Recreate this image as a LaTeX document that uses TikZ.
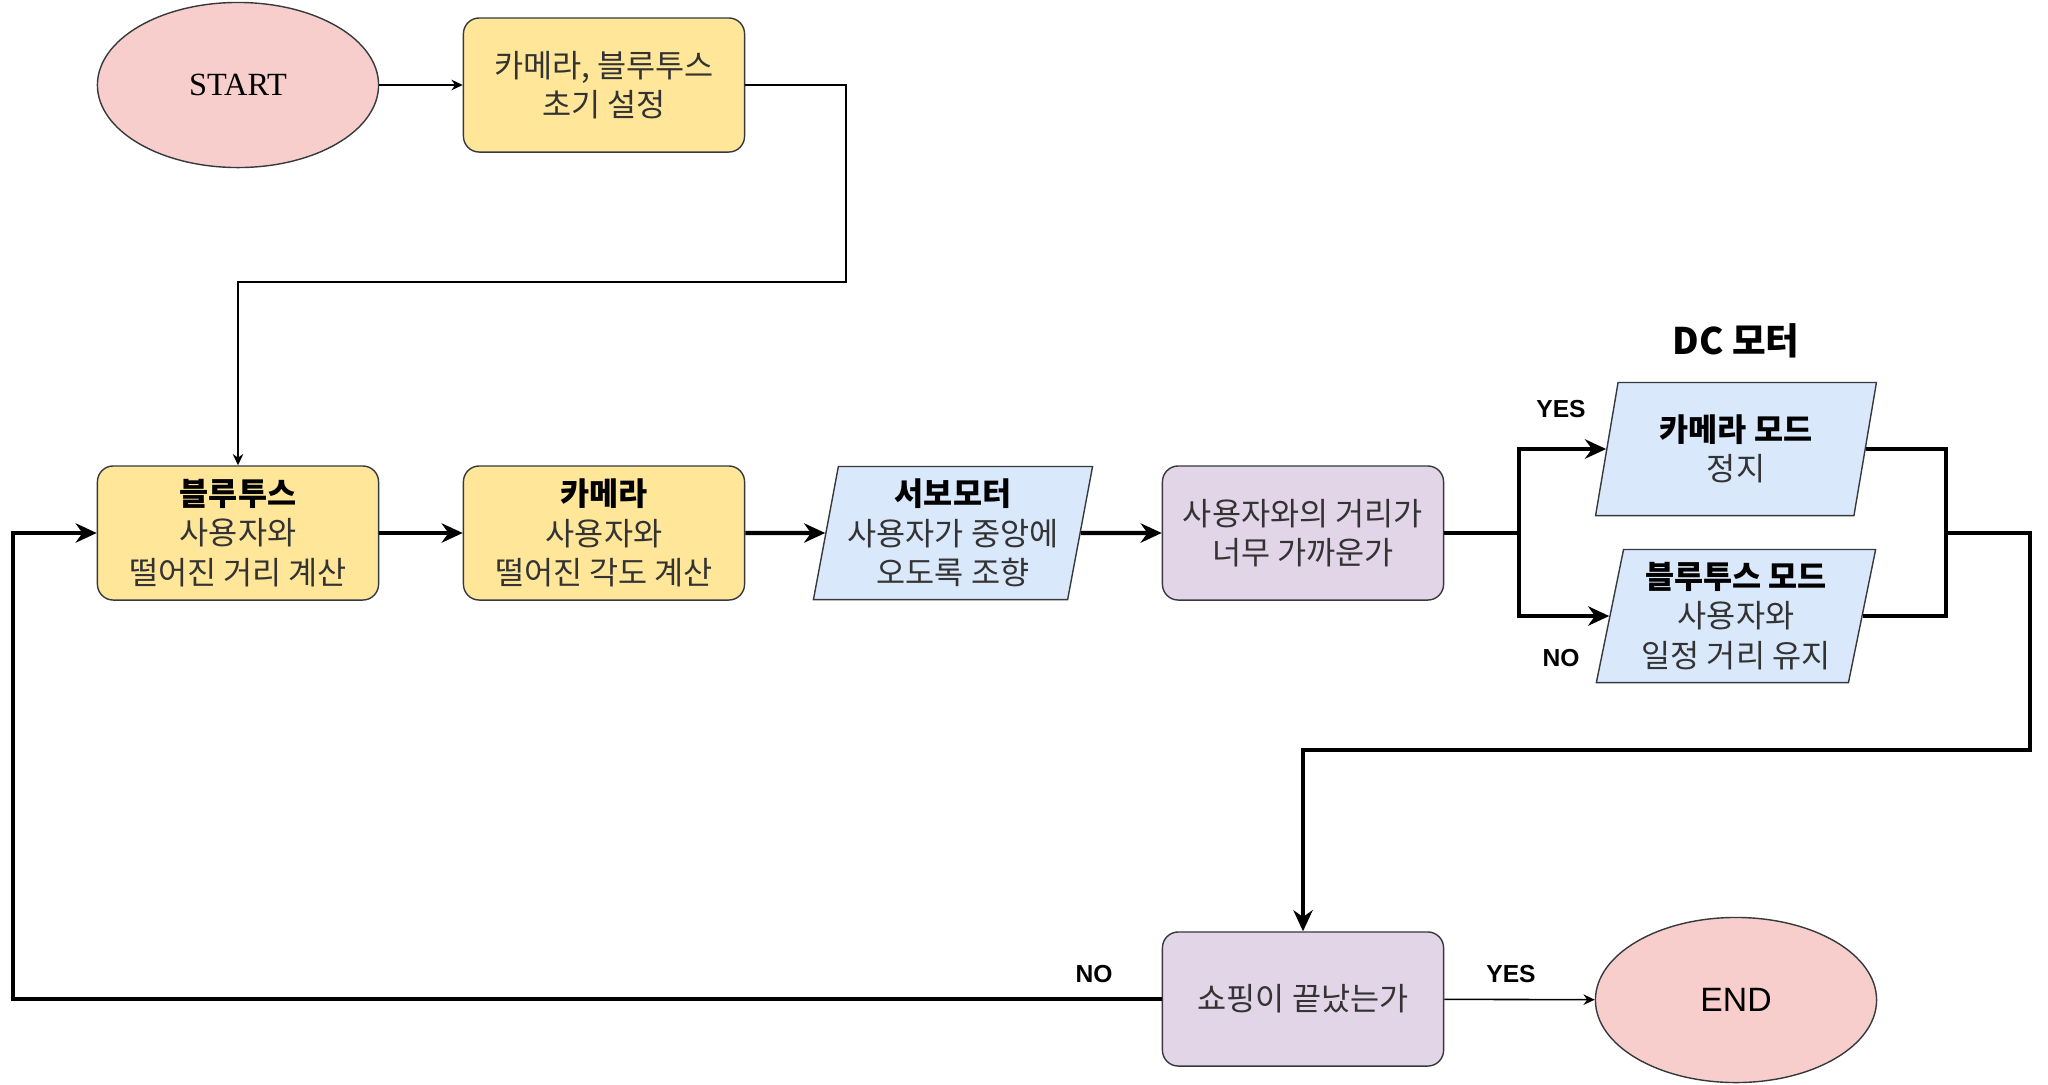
\documentclass[tikz,border=0pt]{standalone}
\usepackage{fontspec}
\setmainfont{Noto Sans CJK KR}
\newfontfamily\arialfont{Liberation Sans}
\newfontfamily\timesfont{Liberation Serif}
\usetikzlibrary{arrows.meta,positioning,shapes.geometric}
\definecolor{termfill}{HTML}{F8CECC}
\definecolor{procfill}{HTML}{FFE699}
\definecolor{iofill}{HTML}{DAE8FC}
\definecolor{askfill}{HTML}{E1D5E7}
\definecolor{edgecol}{HTML}{36393D}

\begin{document}
\begin{tikzpicture}[x=0.01cm, y=-0.01cm,
  term/.style={ellipse, draw=edgecol, fill=termfill, line width=0.4pt,
               minimum width=2.81cm, minimum height=1.65cm, inner sep=0pt},
  proc/.style={rectangle, rounded corners=4.5pt, draw=edgecol, fill=procfill,
               line width=0.4pt, minimum width=2.81cm, minimum height=1.34cm,
               align=center, inner sep=0pt, text=black!80,
               font=\fontsize{9}{11.2}\selectfont},
  ask/.style={proc, fill=askfill},
  io/.style={trapezium, trapezium left angle=78, trapezium right angle=102,
             trapezium stretches=true, draw=edgecol, fill=iofill,
             line width=0.4pt, minimum width=2.81cm, minimum height=1.33cm,
             align=center, inner sep=0pt, text=black!80,
             font=\fontsize{9}{11.2}\selectfont},
  flow/.style={-{Stealth[length=6pt, width=5.5pt]}, line width=1.2pt},   % main flow
  thinflow/.style={-{Stealth[length=3.2pt, width=3pt]}, line width=0.45pt},
  link/.style={line width=1.2pt},
  yn/.style={font=\arialfont\bfseries\fontsize{7}{8}\selectfont},
]
\useasboundingbox (0,0) rectangle (2048,1084);

% Nodes
\node[term] (start) at (238,85) {\timesfont\fontsize{9.2}{10}\selectfont START};
\node[proc] (init)  at (604,85) {카메라, 블루투스\\초기 설정};

\node[proc] (bt)    at (238,533) {\textbf{\color{black}블루투스}\\사용자와\\떨어진 거리 계산};
\node[proc] (cam)   at (604,533) {\textbf{\color{black}카메라}\\사용자와\\떨어진 각도 계산};
\node[io]   (servo) at (953,533) {\textbf{\color{black}서보모터}\\사용자가 중앙에\\오도록 조향};
\node[ask]  (dist)  at (1303,533) {사용자와의 거리가\\너무 가까운가};

\node[io] (cammode) at (1736,449) {\textbf{\color{black}카메라 모드}\\정지};
\node[io] (btmode)  at (1736,616) {\textbf{\color{black}블루투스 모드}\\사용자와\\일정 거리 유지};
\node[font=\bfseries\fontsize{10.4}{12}\selectfont] (dctitle) at (1736,341) {DC 모터};

\node[ask]  (shop) at (1303,999) {쇼핑이 끝났는가};
\node[term] (end)  at (1736,1000)
  {\arialfont\fontsize{9.6}{11}\selectfont END};

% Bend points
\coordinate (initbend)  at (846,282);
\coordinate (split)     at (1519,533);
\coordinate (merge)     at (1946,533);
\coordinate (rightturn) at (2030,750);
\coordinate (loopleft)  at (13,533);

% Setup
\draw[thinflow] (start) -- (init);
\draw[thinflow] (init.east) -| (initbend) -| (bt.north);

% Main row
\draw[flow] (bt) -- (cam);
\draw[flow] (cam) -- (servo);
\draw[flow] (servo) -- (dist);

% Distance check branches
\draw[link] (dist.east) -- (split);
\draw[flow] (split) |- (cammode.west);
\draw[flow] (split) |- (btmode.west);
\node[yn] at (1561,409) {YES};
\node[yn] at (1561,658) {NO};

% Merge and go down
\draw[link] (cammode.east) -| (merge);
\draw[link] (btmode.east) -| (merge);
\draw[flow] (merge) -| (rightturn) -| (shop.north);

% Shopping done?
\draw[flow] (shop.west) -| (loopleft) -- (bt.west);
\node[yn] at (1094,974) {NO};
\draw[thinflow] (shop) -- (end);
\node[yn] at (1511,974) {YES};

\end{tikzpicture}
\end{document}
